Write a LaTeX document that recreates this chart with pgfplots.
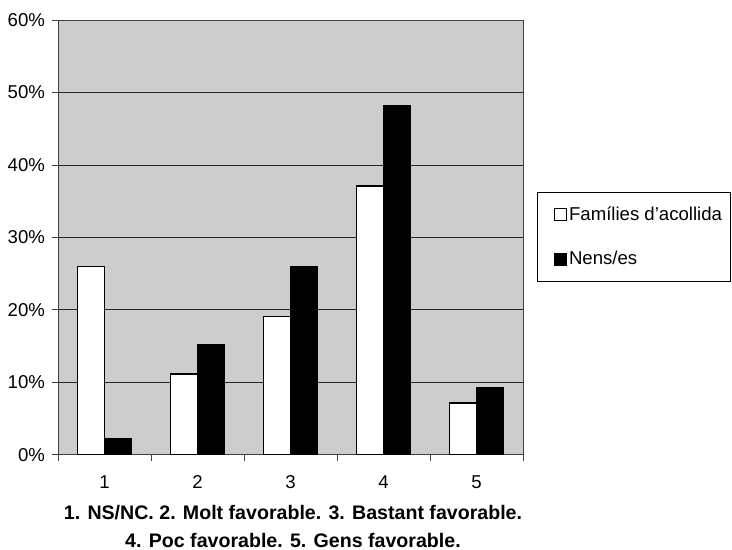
\documentclass[border=0pt]{standalone}
\usepackage{pgfplots}
\pgfplotsset{compat=1.18}
\usepackage{fontspec}
\setmainfont{Liberation Sans}
\definecolor{plotgray}{RGB}{205,205,205}
\begin{document}
\begin{tikzpicture}
\useasboundingbox (-29pt,-47.5pt) rectangle (337pt,227.5pt);
\begin{axis}[
  name=main,
  at={(0,0)}, anchor=south west,
  scale only axis, width=232.5pt, height=217.5pt,
  xmin=0.5, xmax=5.5, ymin=0, ymax=60,
  axis background/.style={fill=plotgray},
  axis line style={black!75, line width=0.5pt},
  font=\fontsize{9.3}{11}\selectfont,
  /pgf/number format/assume math mode=true,
  ytick={0,10,...,60},
  yticklabel={\pgfmathprintnumber{\tick}\%},
  ymajorgrids, grid style={black!85, line width=0.5pt},
  tick align=outside, major tick length=3pt,
  tick style={black!75, line width=0.5pt},
  xtick={0.5,1.5,...,5.5}, xticklabels={},
  extra x ticks={1,2,3,4,5},
  extra x tick labels={1,2,3,4,5},
  extra x tick style={major tick length=0pt, grid=none},
  xticklabel style={anchor=base, yshift=-17pt},
  yticklabel style={xshift=0pt},
  ytick pos=left, xtick pos=bottom,
  legend style={at={(rel axis cs:1.03,0.6046)}, anchor=north west,
    draw=black, line width=0.5pt, fill=white,
    font=\fontsize{9.3}{11}\selectfont,
    inner xsep=4pt, inner ysep=5pt, row sep=10pt,
    nodes={inner xsep=0pt}},
  legend cell align=left,
  legend image code/.code={\path (0pt,0pt) (11pt,0pt);
    \draw[#1,draw=black,line width=0.6pt] (4pt,-3pt) rectangle (10pt,3pt);},
]
\addplot[ybar, bar width=0.29, bar shift=-0.145, fill=white, draw=black, line width=0.8pt]
  coordinates {(1,26) (2,11.2) (3,19.1) (4,37.1) (5,7.2)};
\addplot[ybar, bar width=0.29, bar shift=0.145, fill=black, draw=black, line width=0.8pt]
  coordinates {(1,2.2) (2,15.2) (3,26) (4,48.2) (5,9.3)};
\legend{Famílies d'acollida, Nens/es}
\end{axis}
\node[font=\fontsize{9.8}{14}\selectfont\bfseries, align=center]
  at (117.5pt,-35.5pt)
  {1. NS/NC. 2. Molt favorable. 3. Bastant favorable.\\4. Poc favorable. 5. Gens favorable.};
\end{tikzpicture}
\end{document}
